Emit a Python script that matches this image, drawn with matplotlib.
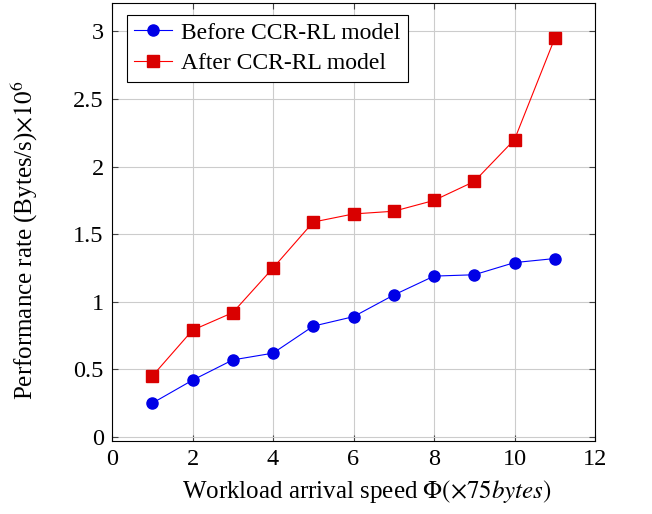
import matplotlib.pyplot as plt

# workload arrival speed (x 75 bytes)
workload = [1, 2, 3, 4, 5, 6, 7, 8, 9, 10, 11]
before_ccr = [0.25, 0.42, 0.57, 0.62, 0.82, 0.89, 1.05, 1.19, 1.20, 1.29, 1.32]
after_ccr = [0.45, 0.79, 0.92, 1.25, 1.59, 1.65, 1.67, 1.75, 1.89, 2.20, 2.95]
x_ticks = [0, 2, 4, 6, 8, 10, 12]
y_ticks = [0, 0.5, 1, 1.5, 2, 2.5, 3]
y_ticklabels = ['0', '0.5', '1', '1.5', '2', '2.5', '3']

plt.rcParams['font.family'] = ['Liberation Serif', 'DejaVu Serif']
plt.rcParams['mathtext.fontset'] = 'stix'

fig = plt.figure(figsize=(6.52, 5.14), dpi=100)
ax = fig.add_axes([0.1718, 0.142, 0.7408, 0.852])

ax.plot(workload, before_ccr, color='#0000ff', lw=0.8, marker='o', ms=8,
        markerfacecolor='#0000e6', markeredgecolor='#0000e6', label='Before CCR-RL model')
ax.plot(workload, after_ccr, color='#ff0000', lw=0.8, marker='s', ms=8,
        markerfacecolor='#d90000', markeredgecolor='#d90000', label='After CCR-RL model')

ax.set_xlim(0, 12)
ax.set_ylim(-0.03, 3.21)
ax.set_xticks(x_ticks)
ax.set_yticks(y_ticks)
ax.set_yticklabels(y_ticklabels)
ax.grid(True, color='#cccccc', lw=0.8)
ax.set_axisbelow(True)
ax.tick_params(direction='in', top=True, right=True, labelsize=17.5, length=4,
               color='#444444', pad=6)
for s in ax.spines.values():
    s.set_linewidth(0.8)

ax.set_xlabel(r'Workload arrival speed $\Phi(\times75bytes)$', fontsize=18, labelpad=9)
ax.xaxis.set_label_coords(0.528, -0.085)
ax.set_ylabel(r'Performance rate (Bytes/s)$\times10^6$', fontsize=18)
ax.yaxis.set_label_coords(-0.15, 0.459)

leg = ax.legend(loc='upper left', bbox_to_anchor=(0.031, 0.973), borderaxespad=0,
                fontsize=17, fancybox=False, edgecolor='black', framealpha=1,
                handlelength=1.6, handletextpad=0.4, borderpad=0.3,
                labelspacing=0.4)
leg.get_frame().set_linewidth(0.8)

fig.savefig('out.png', dpi=100)
